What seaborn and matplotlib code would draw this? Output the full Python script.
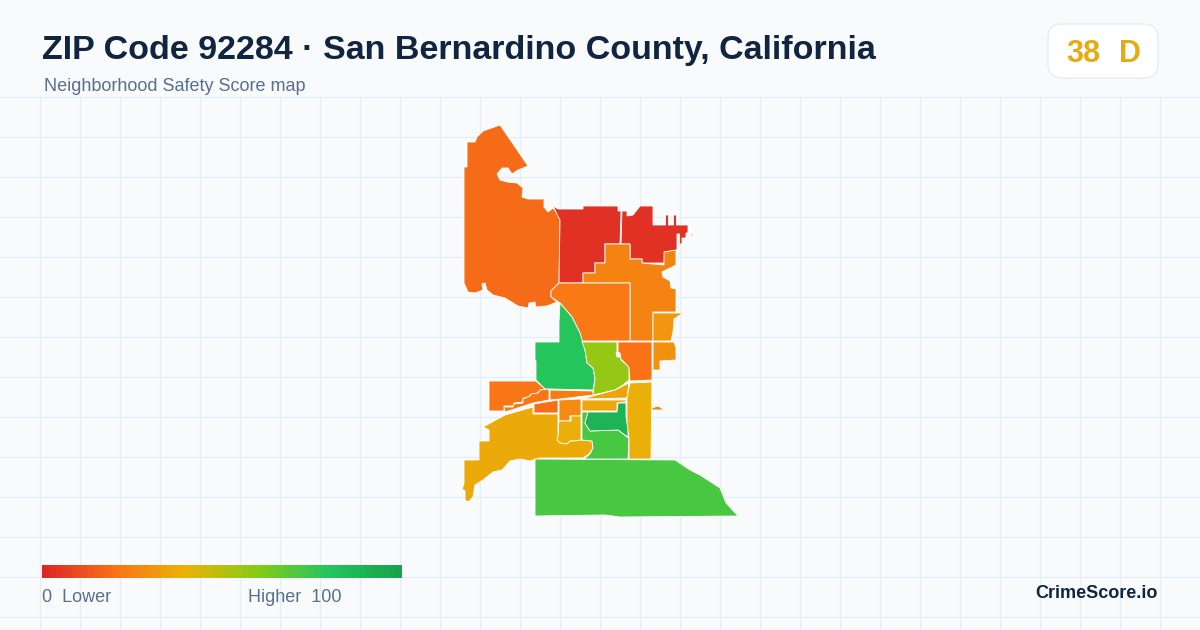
# Safety score map for ZIP 92284, drawn tract by tract
import matplotlib
matplotlib.use("Agg")
import matplotlib.pyplot as plt
from matplotlib.patches import FancyBboxPatch
import numpy as np
import seaborn as sns

title = "ZIP Code 92284 · San Bernardino County, California"
subtitle = "Neighborhood Safety Score map"
zip_score = "38"
zip_grade = "D"

# tract outlines, in map units
nw_big = [(500,125),(528,166),(518,170),(512,174),(508,168),(502,168),(497,174),(500,180),(507,182),(517,183),(523,188),(522,197),(528,199),(544,199),(544,207),(548,212),(553,208),(560,217),(559,283),(551,291),(551,297),(557,302),(547,306),(536,307),(535,302),(529,303),(528,308),(518,306),(505,298),(493,295),(487,290),(485,283),(482,284),(483,290),(475,293),(468,292),(464,283),(464,167),(467,167),(467,142),(475,142),(477,137),(483,131)]
red_west = [(553,206),(558,209),(583,209),(583,206),(618,206),(618,211),(621,211),(620,244),(605,244),(605,263),(595,263),(595,273),(583,273),(583,283),(559,283),(560,220)]
red_east = [(622,211),(627,211),(627,216),(633,215),(640,206),(653,206),(653,225),(665.5,225),(665.5,215),(668.5,215),(668.5,225),(673.5,225),(673.5,215),(676.5,215),(676.5,225),(688,225),(688,233),(686,233),(686,238),(682,238),(682,244),(679.5,244),(679.5,234),(677,234),(677,250),(665,252),(664,263),(642,263),(642,259),(630,259),(630,244),(621,244)]
red_fleck = [(690,234),(693,234),(692,236)]
north_mid = [(605,244),(630,244),(630,259),(642,259),(642,263),(664,265),(664,252),(676,250),(676,265),(668,269),(662,272),(663,277),(670,281),(671,288),(676,289),(676,312),(653,312),(653,341),(630,341),(630,283),(583,283),(583,273),(595,273),(595,263),(605,263)]
north_west = [(559,283),(630,283),(630,341),(582,341),(580,333),(572,317),(560,303),(551,297),(551,291)]
green_mid = [(560,303),(572,317),(580,333),(585,350),(587,363),(593,368),(595,378),(593,390),(550,389),(545,389),(536,380),(536,361),(535,360),(535,342),(559,342),(559,322)]
lime_mid = [(582,342),(617,342),(617,352),(616,353),(617,357),(621,357),(621,360),(627,365),(629,368),(629,380),(623,385),(615,390),(593,395),(595,378),(593,368),(587,363),(585,350)]
east_of_lime = [(618,342),(652,342),(652,380),(630,381),(629,368),(627,365),(621,359),(620,353),(618,352)]
east_box = [(653,342),(674,342),(676,348),(676,360),(660,361),(660,370),(653,370)]
east_top = [(653,313),(683,313),(674,319),(673,332),(671,341),(653,341)]
west_block = [(489,381),(536,381),(545,389),(540,390),(538,393),(530,395),(529,397),(523,398),(523,402),(514,403),(513,406),(504,406),(504,411),(489,411)]
west_stairs = [(504,407),(513,407),(514,404),(523,403),(523,399),(530,396),(531,394),(538,393),(540,390),(549,389),(549,400),(533,403),(505,412)]
centre_bar = [(550,390),(593,391),(593,395),(560,399),(550,400)]
centre_strip = [(593,396),(615,390),(629,383),(627,398),(582,399)]
centre_row = [(582,400),(626,400),(626,402),(617,403),(617,411),(582,411)]
south_stub = [(534,404),(558,400),(558,413),(534,413)]
centre_box = [(559,400),(581,399),(581,416),(570,416),(570,421),(559,421)]
centre_low = [(559,421),(571,421),(571,416),(581,416),(581,440),(575,441),(570,441),(567,444),(560,443),(557,440),(558,435)]
sw_big = [(483,427),(505,415),(533,407),(533,414),(558,414),(558,435),(557,440),(560,443),(567,444),(570,441),(575,441),(581,440),(592,441),(593,448),(589,454),(583,458),(540,458),(530,461),(520,459),(510,461),(502,470),(493,472),(483,480),(475,485),(473,497),(468,502),(465,500),(465,491),(462,489),(464,484),(464,460),(479,460),(479,441),(489,441),(489,430)]
south_mid = [(582,412),(588,412),(585,423),(590,431),(618,430),(627,437),(629,438),(628,459),(584,459),(590,454),(593,448),(592,441),(582,440)]
dark_green = [(588,412),(617,412),(618,403),(626,403),(626,417),(628,427),(628,437),(618,430),(590,431),(585,423)]
east_column = [(630,383),(652,382),(651,459),(629,459),(629,438),(627,423),(627,398)]
east_sliver = [(652,408),(658,406),(663,409),(663,410),(652,410)]
south_big = [(535,459),(675,460),(690,470),(700,475),(720,488),(726,503),(738,516),(620,517),(605,515),(535,516)]

tracts = [nw_big, red_west, red_east, red_fleck, north_mid, north_west, green_mid, lime_mid,
          east_of_lime, east_box, east_top, west_block, west_stairs, centre_bar, centre_strip,
          centre_row, south_stub, centre_box, centre_low, sw_big, south_mid, dark_green,
          east_column, east_sliver, south_big]
scores = [18, 3, 3, 3, 25, 22, 79, 57,
          20, 29, 31, 21, 21, 23, 35,
          36, 19, 28, 39, 37, 72, 90,
          39, 24, 72]

score_stops = ["#dc2626", "#f97316", "#eab308", "#84cc16", "#22c55e", "#16a34a"]
legend_values = np.arange(0, 101)

sns.set_theme(style="white")
plt.rcParams["font.family"] = ["Liberation Sans", "DejaVu Sans"]
score_cmap = sns.blend_palette(score_stops, as_cmap=True)

fig = plt.figure(figsize=(12, 6.3), dpi=100, facecolor="#f8fafc")
ax = fig.add_axes([0, 0, 1, 1])
ax.set_xlim(0, 1200)
ax.set_ylim(630, 0)
ax.axis("off")

# faint map grid below the header
grid_color = "#e4eef3"
ax.vlines(np.arange(40, 1200, 40), 97, 630, color=grid_color, lw=0.8, zorder=1)
ax.hlines(np.arange(97, 630, 40), 0, 1200, color=grid_color, lw=0.8, zorder=1)

for outline, score in zip(tracts, scores):
    ax.fill(*zip(*outline), facecolor=score_cmap(score / 100), edgecolor="#ffffff",
            lw=0.6, joinstyle="round", zorder=2)

ax.text(42, 58.5, title, fontsize=24.5, fontweight="bold", color="#0f2540", va="baseline", ha="left")
ax.text(44, 91, subtitle, fontsize=12.95, color="#56708f", va="baseline", ha="left")

# score badge
badge = FancyBboxPatch((1062, 38), 82, 26, boxstyle="round,pad=14,rounding_size=14",
                       mutation_aspect=1, facecolor="#ffffff", edgecolor="#e2e8f0", lw=0.8, zorder=3)
ax.add_patch(badge)
ax.text(1083, 62, zip_score, fontsize=22, fontweight="bold", color="#e5ab14", va="baseline", ha="center", zorder=4)
ax.text(1130, 62, zip_grade, fontsize=22, fontweight="bold", color="#e5ab14", va="baseline", ha="center", zorder=4)

# gradient legend
cax = fig.add_axes([42 / 1200, 1 - 578 / 630, 360 / 1200, 13 / 630])
sns.heatmap(legend_values.reshape(1, -1), cmap=score_cmap, vmin=0, vmax=100, cbar=False,
            xticklabels=False, yticklabels=False, ax=cax)

ax.text(42, 602, "0  Lower", fontsize=12.95, color="#56708f", va="baseline", ha="left")
ax.text(342, 602, "Higher  100", fontsize=12.95, color="#56708f", va="baseline", ha="right")
ax.text(1158, 598, "CrimeScore.io", fontsize=13, fontweight="bold", color="#0f2540", va="baseline", ha="right")

fig.savefig("out.png", dpi=100, facecolor=fig.get_facecolor())
